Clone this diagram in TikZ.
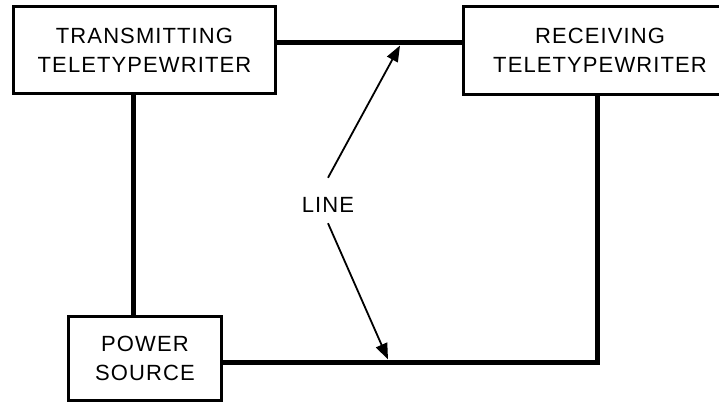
\documentclass[tikz,border=0pt]{standalone}
\usepackage{fontspec}
\setmainfont{Liberation Sans}[LetterSpace=5]
\usetikzlibrary{arrows.meta}
\begin{document}
\begin{tikzpicture}[x=1pt, y=-1pt,
    box/.style={draw, rectangle, line width=3pt, align=center, inner sep=0pt},
    wire/.style={line width=5pt},
    arrow/.style={-{Triangle[length=16pt,width=12pt]}, line width=1.8pt},
    every node/.style={font=\fontsize{22}{29}\selectfont}]
    \useasboundingbox (0,0) rectangle (719,404);
    % Nodos
    \node[box, minimum width=262pt, minimum height=87pt] (trans) at (144.5,50) {TRANSMITTING\\TELETYPEWRITER};
    \node[box, minimum width=273pt, minimum height=88pt] (recv) at (600,50.5) {RECEIVING\\TELETYPEWRITER};
    \node[box, minimum width=153pt, minimum height=84pt] (power) at (145,358.5) {POWER\\SOURCE};
    \node[inner xsep=2pt, inner ysep=8pt] (lbl) at (328,204.5) {LINE};

    \coordinate (tipA) at (400,45.5);
    \coordinate (tipB) at (388,359.5);

    % Lineas
    \draw[wire] ([yshift=7pt]trans.east) -- ([yshift=7pt]trans.east -| recv.west);
    \draw[wire] ([xshift=-11.5pt]trans.south) -- ([xshift=-11.5pt]trans.south |- power.north);
    \draw[wire] ([xshift=-3pt]recv.south) |- ([yshift=-3.5pt]power.east);

    \draw[arrow] ([yshift=11pt]lbl.north) -- (tipA);
    \draw[arrow] ([yshift=-3pt]lbl.south) -- (tipB);
\end{tikzpicture}
\end{document}
